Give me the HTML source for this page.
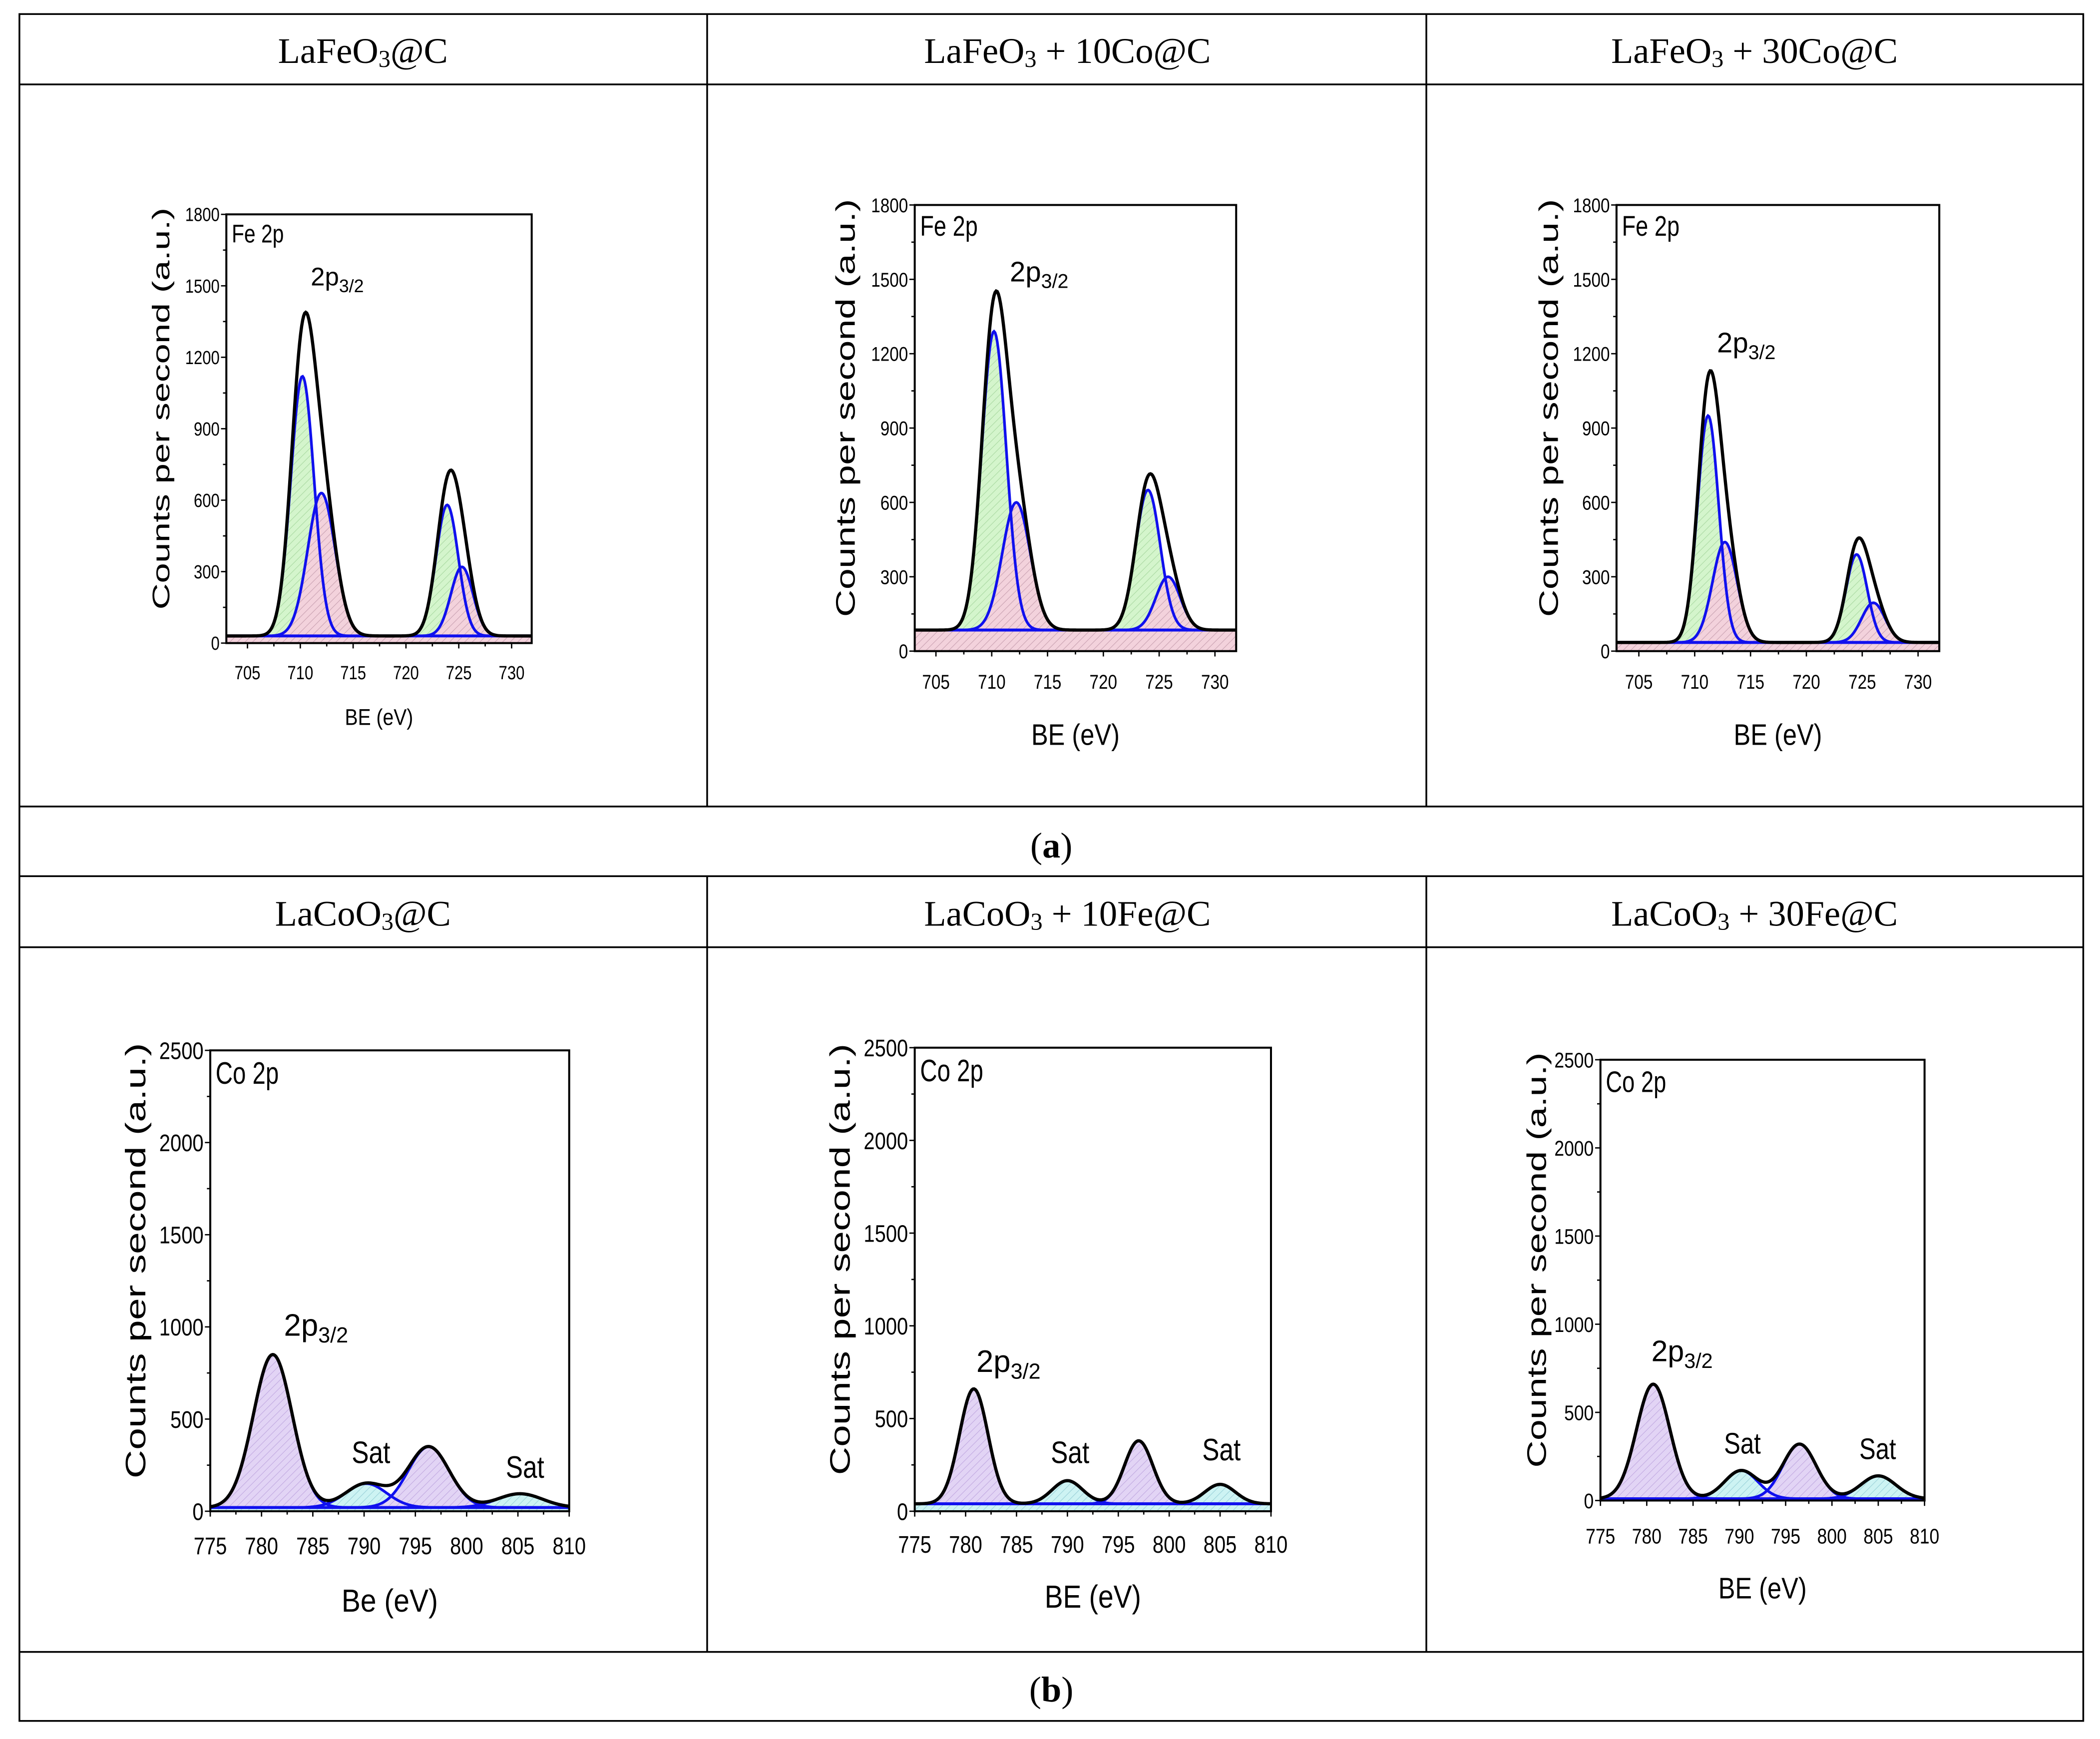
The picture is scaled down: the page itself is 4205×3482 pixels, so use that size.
<!DOCTYPE html>
<html><head><meta charset="utf-8"><style>
html,body{margin:0;padding:0;background:#fff}
svg{display:block}
</style></head><body>
<svg id="fig" xmlns="http://www.w3.org/2000/svg" width="4205" height="3482" viewBox="0 0 1568 1298" preserveAspectRatio="none">
<defs>
<pattern id="hatch-green" patternUnits="userSpaceOnUse" width="4" height="4" patternTransform="rotate(45)"><rect width="4" height="4" fill="#d4f5cc"/><line x1="0" y1="0" x2="0" y2="4" stroke="#a8d8a0" stroke-width="0.8"/></pattern>
<pattern id="hatch-pink" patternUnits="userSpaceOnUse" width="4" height="4" patternTransform="rotate(45)"><rect width="4" height="4" fill="#f3d2dc"/><line x1="0" y1="0" x2="0" y2="4" stroke="#c8a0b0" stroke-width="0.8"/></pattern>
<pattern id="hatch-purple" patternUnits="userSpaceOnUse" width="4" height="4" patternTransform="rotate(45)"><rect width="4" height="4" fill="#e2d4f5"/><line x1="0" y1="0" x2="0" y2="4" stroke="#c0a8e0" stroke-width="0.8"/></pattern>
<pattern id="hatch-cyan" patternUnits="userSpaceOnUse" width="4" height="4" patternTransform="rotate(45)"><rect width="4" height="4" fill="#cdf3f3"/><line x1="0" y1="0" x2="0" y2="4" stroke="#98d0d8" stroke-width="0.8"/></pattern>
</defs>
<g id="table" fill="none" stroke="#000" stroke-width="1.3">
<rect x="14.5" y="10.5" width="1541" height="1274"/>
<line x1="14" y1="63" x2="1556" y2="63"/>
<line x1="14" y1="602" x2="1556" y2="602"/>
<line x1="14" y1="654" x2="1556" y2="654"/>
<line x1="14" y1="707" x2="1556" y2="707"/>
<line x1="14" y1="1233" x2="1556" y2="1233"/>
<line x1="528" y1="10" x2="528" y2="602"/>
<line x1="1065" y1="10" x2="1065" y2="602"/>
<line x1="528" y1="654" x2="528" y2="1233"/>
<line x1="1065" y1="654" x2="1065" y2="1233"/>
</g>
<g font-family="'Liberation Serif', serif" font-size="27" text-anchor="middle" fill="#000">
<text x="271" y="47">LaFeO<tspan font-size="18" dy="3">3</tspan><tspan dy="-3">@C</tspan></text>
<text x="797" y="47">LaFeO<tspan font-size="18" dy="3">3</tspan><tspan dy="-3"> + 10Co@C</tspan></text>
<text x="1310" y="47">LaFeO<tspan font-size="18" dy="3">3</tspan><tspan dy="-3"> + 30Co@C</tspan></text>
<text x="785" y="640">(<tspan font-weight="bold">a</tspan>)</text>
<text x="271" y="691">LaCoO<tspan font-size="18" dy="3">3</tspan><tspan dy="-3">@C</tspan></text>
<text x="797" y="691">LaCoO<tspan font-size="18" dy="3">3</tspan><tspan dy="-3"> + 10Fe@C</tspan></text>
<text x="1310" y="691">LaCoO<tspan font-size="18" dy="3">3</tspan><tspan dy="-3"> + 30Fe@C</tspan></text>
<text x="785" y="1270">(<tspan font-weight="bold">b</tspan>)</text>
</g>
<g id="plots"></g>
</svg>
<script>
// ---- data ----
const feCenters = [[710.2,712.0,723.9,725.3],[710.2,712.2,724.0,725.8],[711.2,712.7,724.5,726.0]];
const feHeights = [[1090,600,550,290],[1205,515,565,215],[915,405,355,160]];
const feSigmas  = [[1.1,1.3,1.05,1.05],[1.1,1.25,1.1,1.1],[0.95,1.1,0.95,1.05]];
const feBase    = [30,85,35];
const coCenters = [[781.1,790.2,796.3,805.2],[780.8,790.0,797.0,805.0],[780.7,790.2,796.5,805.0]];
const coHeights = [[830,130,330,75],[620,125,340,105],[650,160,310,130]];
const coSigmas  = [[1.9,2.0,2.0,2.2],[1.4,1.5,1.4,1.5],[1.8,1.8,1.8,1.9]];
const coBase    = [20,40,10];
const feXTicks = [705,710,715,720,725,730];
const feYTicks = [0,300,600,900,1200,1500,1800];
const coXTicks = [775,780,785,790,795,800,805,810];
const coYTicks = [0,500,1000,1500,2000,2500];

// ---- layout ----
const NS='http://www.w3.org/2000/svg';
const panels=[
 {kind:'fe',i:0,x0:169,x1:397,y0:160,y1:480,xmin:703,xmax:731.9,ymax:1800,fs:14,tfs:18,ytx:120,ytl:300,xtl:507,xty:541,xt:'BE (eV)',xtfs:17,lf:19,lab:'Fe 2p',pk:[232,213],sats:[]},
 {kind:'fe',i:1,x0:683,x1:923,y0:153,y1:486,xmin:703.1,xmax:731.9,ymax:1800,fs:15,tfs:20,ytx:631,ytl:312,xtl:514,xty:556,xt:'BE (eV)',xtfs:22,lf:21,lab:'Fe 2p',pk:[754,210],sats:[]},
 {kind:'fe',i:2,x0:1207,x1:1448,y0:153,y1:486,xmin:703,xmax:731.9,ymax:1800,fs:15,tfs:20,ytx:1156,ytl:312,xtl:514,xty:556,xt:'BE (eV)',xtfs:22,lf:21,lab:'Fe 2p',pk:[1282,263],sats:[]},
 {kind:'co',i:0,x0:157,x1:425,y0:784,y1:1128,xmin:775,xmax:810,ymax:2500,fs:18,tfs:21,ytx:101,ytl:325,xtl:1160,xty:1203,xt:'Be (eV)',xtfs:24,lf:23,lab:'Co 2p',pk:[212,997],sats:[[277,1092],[392,1103]]},
 {kind:'co',i:1,x0:683,x1:949,y0:782,y1:1128,xmin:775,xmax:810,ymax:2500,fs:18,tfs:21,ytx:627,ytl:322,xtl:1159,xty:1200,xt:'BE (eV)',xtfs:24,lf:23,lab:'Co 2p',pk:[729,1024],sats:[[799,1092],[912,1090]]},
 {kind:'co',i:2,x0:1195,x1:1437,y0:791,y1:1120,xmin:775,xmax:810,ymax:2500,fs:16,tfs:20,ytx:1147,ytl:310,xtl:1152,xty:1193,xt:'BE (eV)',xtfs:22,lf:22,lab:'Co 2p',pk:[1233,1016],sats:[[1301,1085],[1402,1089]]}
];
const root=document.getElementById('plots');
function mk(tag,attrs,parent){const e=document.createElementNS(NS,tag);for(const k in attrs)e.setAttribute(k,attrs[k]);(parent||root).appendChild(e);return e;}

panels.forEach((p,pi)=>{
 const fe=p.kind==='fe';
 const C=(fe?feCenters:coCenters)[p.i], H=(fe?feHeights:coHeights)[p.i], S=(fe?feSigmas:coSigmas)[p.i], B=(fe?feBase:coBase)[p.i];
 const xs=v=>p.x0+(v-p.xmin)/(p.xmax-p.xmin)*(p.x1-p.x0);
 const ys=v=>p.y1-v/p.ymax*(p.y1-p.y0);
 const g=mk('g',{});
 
 
 const cid='clip'+pi;
 const cp=mk('clipPath',{id:cid},g);mk('rect',{x:p.x0,y:p.y0,width:p.x1-p.x0,height:p.y1-p.y0+2},cp);
 const pg=mk('g',{'clip-path':'url(#'+cid+')'},g);
 const N=300, xsArr=[];
 for(let k=0;k<=N;k++)xsArr.push(p.xmin+(p.xmax-p.xmin)*k/N);
 const gauss=(x,j)=>H[j]*Math.exp(-0.5*((x-C[j])/S[j])**2);
 const fills=fe?['hatch-green','hatch-pink','hatch-green','hatch-pink']:['hatch-purple','hatch-cyan','hatch-purple','hatch-cyan'];
 const ba=mk('rect',{x:p.x0,y:ys(B),width:p.x1-p.x0,height:p.y1-ys(B),fill:fe?'url(#hatch-pink)':'url(#hatch-cyan)'},pg);
 
 
 for(let j=0;j<C.length;j++){
  let d='M'+xs(p.xmin)+','+ys(B);
  xsArr.forEach(x=>{d+=' L'+xs(x).toFixed(2)+','+ys(B+gauss(x,j)).toFixed(2);});
  d+=' L'+xs(p.xmax)+','+ys(B)+' Z';
  const a=mk('path',{d:d,fill:'url(#'+fills[j]+')',stroke:'none'},pg);
  
  
 }
 for(let j=0;j<C.length;j++){
  let d='';
  xsArr.forEach((x,k)=>{d+=(k?' L':'M')+xs(x).toFixed(2)+','+ys(B+gauss(x,j)).toFixed(2);});
  const l=mk('path',{d:d,fill:'none',stroke:'#1010ee','stroke-width':2},pg);
  
  
 }
 const bl=mk('line',{x1:p.x0,x2:p.x1,y1:ys(B),y2:ys(B),stroke:'#1010ee','stroke-width':2.2},pg);
 
 
 let d='';
 xsArr.forEach((x,k)=>{let s=B;for(let j=0;j<C.length;j++)s+=gauss(x,j);d+=(k?' L':'M')+xs(x).toFixed(2)+','+ys(s).toFixed(2);});
 const env=mk('path',{d:d,fill:'none',stroke:'#000','stroke-width':2.4},pg);
 
 
 const fr=mk('rect',{x:p.x0,y:p.y0,width:p.x1-p.x0,height:p.y1-p.y0,fill:'none',stroke:'#000','stroke-width':1.5},g);
 
 
 const xt=fe?feXTicks:coXTicks, yt=fe?feYTicks:coYTicks;
 const tf="'Liberation Sans', sans-serif";
 xt.forEach((v,k)=>{
  mk('line',{x1:xs(v),x2:xs(v),y1:p.y1,y2:p.y1+4,stroke:'#000','stroke-width':1},g);
  if(k<xt.length-1||!fe){const m=v+2.5;if(m<p.xmax)mk('line',{x1:xs(m),x2:xs(m),y1:p.y1,y2:p.y1+2.5,stroke:'#000','stroke-width':1},g);}
  const t=mk('text',{x:xs(v),y:p.xtl,'font-size':p.fs,'font-family':tf,'text-anchor':'middle',textLength:p.fs*(String(v).length*0.46),lengthAdjust:'spacingAndGlyphs'},g);
  t.textContent=v;
  
  
 });
 yt.forEach((v,k)=>{
  mk('line',{x1:p.x0-4,x2:p.x0,y1:ys(v),y2:ys(v),stroke:'#000','stroke-width':1},g);
  if(k<yt.length-1){const m=(v+yt[k+1])/2;mk('line',{x1:p.x0-2.5,x2:p.x0,y1:ys(m),y2:ys(m),stroke:'#000','stroke-width':1},g);}
  const t=mk('text',{x:p.x0-5,y:ys(v)+p.fs*0.36,'font-size':p.fs,'font-family':tf,'text-anchor':'end',textLength:p.fs*(String(v).length*0.46),lengthAdjust:'spacingAndGlyphs'},g);
  t.textContent=v;
  
  
 });
 const yc=(p.y0+p.y1)/2-15, yx=p.ytx+p.tfs*0.36;
 const yl=mk('text',{x:yx,y:yc,'font-size':p.tfs,'font-family':tf,'text-anchor':'middle',textLength:p.ytl,lengthAdjust:'spacingAndGlyphs',transform:'rotate(-90 '+yx+' '+yc+')'},g);
 yl.textContent='Counts per second (a.u.)';
 
 
 const xlab=mk('text',{x:(p.x0+p.x1)/2,y:p.xty,'font-size':p.xtfs,'font-family':tf,'text-anchor':'middle',textLength:p.xtfs*3.0,lengthAdjust:'spacingAndGlyphs'},g);
 xlab.textContent=p.xt;
 
 
 const lf=p.lf;
 const lb=mk('text',{x:p.x0+4,y:p.y0+lf+2,'font-size':lf,'font-family':tf,textLength:lf*2.05,lengthAdjust:'spacingAndGlyphs'},g);
 lb.textContent=p.lab;
 
 
 const pk=mk('text',{x:p.pk[0],y:p.pk[1],'font-size':lf,'font-family':tf},g);
 pk.innerHTML='2p<tspan font-size="'+(lf*0.7)+'" dy="5">3/2</tspan>';
 
 
 p.sats.forEach(s=>{
  const st=mk('text',{x:s[0],y:s[1],'font-size':lf,'font-family':tf,'text-anchor':'middle',textLength:lf*1.25,lengthAdjust:'spacingAndGlyphs'},g);
  st.textContent='Sat';
  
  
 });
});
</script>
</body></html>
